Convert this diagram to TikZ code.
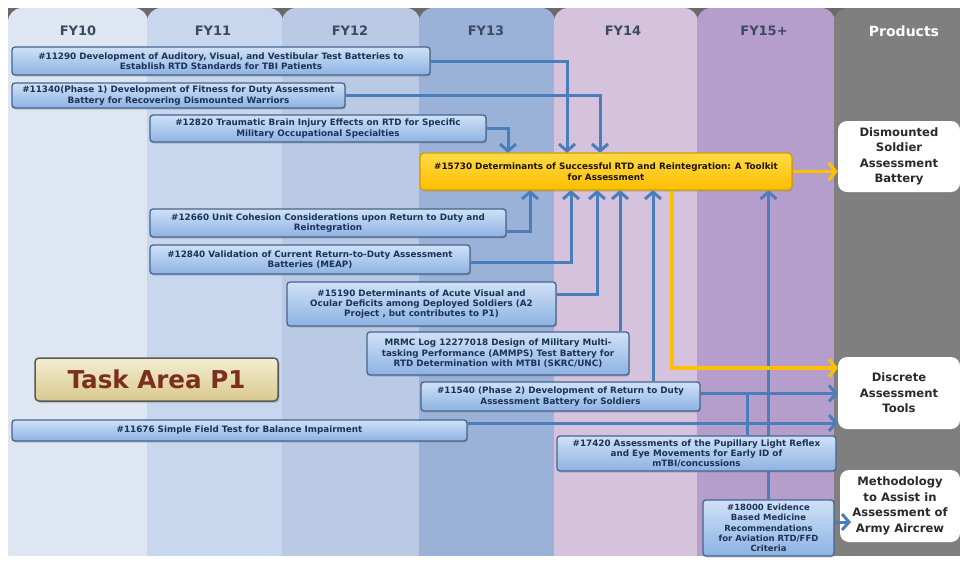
\documentclass[tikz,border=0pt]{standalone}
\usepackage{fontspec}
\setmainfont{DejaVu Sans}
\usetikzlibrary{arrows.meta,shadows}
\definecolor{cfy10}{HTML}{DEE6F2}
\definecolor{cfy11}{HTML}{C8D7ED}
\definecolor{cfy12}{HTML}{BACAE4}
\definecolor{cfy13}{HTML}{9AB2D8}
\definecolor{cfy14}{HTML}{D5C3DD}
\definecolor{cfy15}{HTML}{B59ECC}
\definecolor{cprod}{HTML}{7F7F7F}
\definecolor{notch}{HTML}{6A6A6A}
\definecolor{hdrtext}{HTML}{3B4A60}
\definecolor{bartop}{HTML}{CFE1F7}
\definecolor{barbot}{HTML}{8DB2E2}
\definecolor{barborder}{HTML}{46648F}
\definecolor{bartext}{HTML}{1C3358}
\definecolor{lineblue}{HTML}{4A7EBB}
\definecolor{lineyellow}{HTML}{FFC000}
\definecolor{ytop}{HTML}{FFDA45}
\definecolor{ybot}{HTML}{FFBF00}
\definecolor{yborder}{HTML}{D69E00}
\definecolor{taskfilltop}{HTML}{F4EED0}
\definecolor{taskfillbot}{HTML}{D9C98F}
\definecolor{tasktext}{HTML}{7B2F1F}
\definecolor{prodtext}{HTML}{2A2A2A}
\pgfdeclarelayer{cols}
\pgfdeclarelayer{conns}
\pgfsetlayers{cols,conns,main}
\begin{document}
\begin{tikzpicture}[x=1pt,y=-1pt,
  hdr/.style={font=\bfseries\fontsize{13}{15}\selectfont, text=hdrtext},
  bar/.style={draw=barborder, line width=1.3pt, rounded corners=3pt,
    top color=bartop, bottom color=barbot, text=bartext, align=center,
    font=\bfseries\fontsize{8.8}{10.3}\selectfont, inner sep=1pt,
    drop shadow={opacity=0.35, shadow xshift=1pt, shadow yshift=-1.5pt}},
  ybox/.style={draw=yborder, line width=1.3pt, rounded corners=4pt,
    top color=ytop, bottom color=ybot, text=black!85!brown, align=center,
    font=\bfseries\fontsize{8.8}{10.8}\selectfont, inner sep=1pt,
    drop shadow={opacity=0.35, shadow xshift=1pt, shadow yshift=-1.5pt}},
  prod/.style={fill=white, rounded corners=9pt, text=prodtext, align=center,
    font=\bfseries\fontsize{11.6}{15.5}\selectfont, inner sep=0pt,
    drop shadow={opacity=0.3, shadow xshift=1.5pt, shadow yshift=-1.5pt}},
  taskbox/.style={draw=black!65, line width=1.5pt, rounded corners=4pt,
    top color=taskfilltop, bottom color=taskfillbot, text=tasktext,
    font=\bfseries\fontsize{24.6}{27}\selectfont, inner sep=0pt,
    drop shadow={opacity=0.35, shadow xshift=1.5pt, shadow yshift=-2pt}},
  conn/.style={draw=lineblue, line width=3pt,
    -{Straight Barb[length=7pt,width=16pt]}},
  plainconn/.style={draw=lineblue, line width=3pt},
  yconn/.style={draw=lineyellow, line width=3.2pt,
    -{Straight Barb[length=7pt,width=17pt]}}
]
\useasboundingbox (0,0) rectangle (960,563);

% columns
\begin{pgfonlayer}{cols}
\fill[white] (0,0) rectangle (960,563);
\fill[notch] (8,8) rectangle (960,20);
\foreach \xa/\xb/\c in {8/148/cfy10, 147/283/cfy11, 282/420/cfy12, 419/555/cfy13, 554/698/cfy14, 697/835/cfy15, 834/974/cprod} {
  \fill[\c, rounded corners=14pt] (\xa,8) rectangle (\xb,50);
  \fill[\c] (\xa,30) rectangle (\xb,556);
}
\fill[white] (0,0) rectangle (960,8);
\fill[white] (0,0) rectangle (8,563);
\end{pgfonlayer}

% headers
\node[hdr] (h10) at (78,31) {FY10};
\node[hdr] (h11) at (213,31) {FY11};
\node[hdr] (h12) at (350,31) {FY12};
\node[hdr] (h13) at (486,31) {FY13};
\node[hdr] (h14) at (623,31) {FY14};
\node[hdr] (h15) at (764,31) {FY15+};
\node[hdr, text=white, font=\bfseries\fontsize{14}{16}\selectfont] (hp) at (904,31) {Products};

% entry coordinates
\coordinate (yT1) at (508,153);
\coordinate (yT2) at (567,153);
\coordinate (yT3) at (600,153);
\coordinate (yB1) at (530,190);
\coordinate (yB2) at (571,190);
\coordinate (yB3) at (597,190);
\coordinate (yB4) at (620,190);
\coordinate (yB5) at (653,190);
\coordinate (yB6) at (768.5,190);
\coordinate (yB7) at (672,190);
\coordinate (dIn1) at (838,368);
\coordinate (dIn2) at (838,393.5);
\coordinate (dIn3) at (838,423);
\coordinate (jn) at (747,393.5);
\coordinate (mIn) at (851,522);

% bars
\node[bar, minimum width=418pt, minimum height=28pt] (b11290) at (221,61)
  {\#11290 Development of Auditory, Visual, and Vestibular Test Batteries to\\Establish RTD Standards for TBI Patients};
\node[bar, minimum width=333pt, minimum height=25pt] (b11340) at (178.5,95.5)
  {\#11340(Phase 1) Development of Fitness for Duty Assessment\\Battery for Recovering Dismounted Warriors};
\node[bar, minimum width=336pt, minimum height=27pt] (b12820) at (318,128.5)
  {\#12820 Traumatic Brain Injury Effects on RTD for Specific\\Military Occupational Specialties};
\node[ybox, minimum width=372pt, minimum height=37pt] (yellow) at (606,171.5)
  {\#15730 Determinants of Successful RTD and Reintegration: A Toolkit\\for Assessment};
\node[bar, minimum width=356pt, minimum height=28pt] (b12660) at (328,223)
  {\#12660 Unit Cohesion Considerations upon Return to Duty and\\Reintegration};
\node[bar, minimum width=320pt, minimum height=29pt] (b12840) at (310,259.5)
  {\#12840 Validation of Current Return-to-Duty Assessment\\Batteries (MEAP)};
\node[bar, minimum width=269pt, minimum height=44pt] (b15190) at (421.5,304)
  {\#15190 Determinants of Acute Visual and\\Ocular Deficits among Deployed Soldiers (A2\\Project , but contributes to P1)};
\node[bar, minimum width=262pt, minimum height=43pt] (mrmc) at (498,353.5)
  {MRMC Log 12277018 Design of Military Multi-\\tasking Performance (AMMPS) Test Battery for\\RTD Determination with MTBI (SKRC/UNC)};
\node[bar, minimum width=279pt, minimum height=29pt] (b11540) at (560.5,396.5)
  {\#11540 (Phase 2) Development of Return to Duty\\Assessment Battery for Soldiers};
\node[bar, minimum width=455pt, minimum height=21pt] (b11676) at (239.5,430.5)
  {\#11676 Simple Field Test for Balance Impairment};
\node[bar, minimum width=279pt, minimum height=35pt] (b17420) at (696.5,453.5)
  {\#17420 Assessments of the Pupillary Light Reflex\\and Eye Movements for Early ID of\\mTBI/concussions};
\node[bar, minimum width=131pt, minimum height=56pt,
  font=\bfseries\fontsize{8.5}{10.2}\selectfont] (b18000) at (768.5,528)
  {\#18000 Evidence\\Based Medicine\\Recommendations\\for Aviation RTD/FFD\\Criteria};
\node[taskbox, minimum width=243pt, minimum height=43pt] (task) at (156.5,379.5) {Task Area P1};

% products
\node[prod, minimum width=122pt, minimum height=71pt] (pdsab) at (899,156.5)
  {Dismounted\\Soldier\\Assessment\\Battery};
\node[prod, minimum width=122pt, minimum height=72pt] (pdat) at (899,393)
  {Discrete\\Assessment\\Tools};
\node[prod, minimum width=120pt, minimum height=72pt] (pmeth) at (900,506)
  {Methodology\\to Assist in\\Assessment of\\Army Aircrew};

% connectors (behind the boxes)
\begin{pgfonlayer}{conns}
\draw[conn] (b11290.east) -| (yT2);
\draw[conn] (b11340.east) -| (yT3);
\draw[conn] (b12820.east) -| (yT1);
\draw[conn] ([yshift=-8pt]b12660.east) -| (yB1);
\draw[conn] ([yshift=-3pt]b12840.east) -| (yB2);
\draw[conn] ([yshift=10pt]b15190.east) -| (yB3);
\draw[conn] ([xshift=122pt]mrmc.north) -- (yB4);
\draw[conn] ([xshift=92.5pt]b11540.north) -- (yB5);
\draw[conn] ([yshift=3pt]b11540.east) -- (dIn2);
\draw[plainconn] ([xshift=50.5pt]b17420.north) -- (jn);
\draw[conn] ([yshift=7.5pt]b11676.east) -- (dIn3);
\draw[conn] (b18000.north) -- (yB6);
\draw[yconn] (yellow.east) -- (pdsab.west |- yellow.east);
\draw[yconn] (yB7) |- (dIn1);
\end{pgfonlayer}
\draw[conn] (b18000.east |- mIn) -- (mIn);
\end{tikzpicture}
\end{document}
